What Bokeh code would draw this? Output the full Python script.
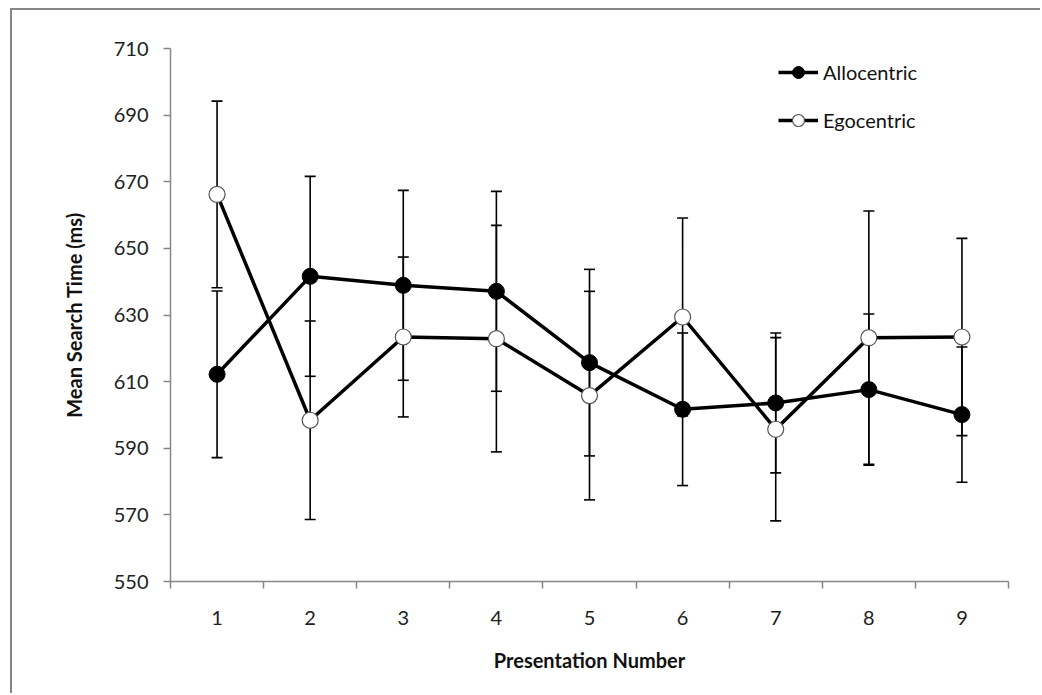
from bokeh.plotting import figure
from bokeh.models import FixedTicker, Whisker, ColumnDataSource, Legend, LegendItem, TeeHead
from bokeh.embed import file_html
from bokeh.resources import INLINE

presentation = [1, 2, 3, 4, 5, 6, 7, 8, 9]
allo_mean = [612.2, 641.6, 638.9, 637.1, 615.7, 601.7, 603.6, 607.6, 600.1]
allo_err = [25.0, 30.0, 28.5, 30.0, 28.0, 22.9, 21.0, 22.7, 20.3]
ego_mean = [666.2, 598.4, 623.4, 622.9, 605.8, 629.4, 595.7, 623.2, 623.4]
ego_err = [28.0, 29.8, 24.0, 34.0, 31.3, 29.7, 27.5, 38.0, 29.6]
y_ticks = [550, 570, 590, 610, 630, 650, 670, 690, 710]
x_boundaries = [0.5, 1.5, 2.5, 3.5, 4.5, 5.5, 6.5, 7.5, 8.5, 9.5]

FONT = "Lato"
AXIS_GRAY = "#868686"

allo_src = ColumnDataSource(dict(
    x=presentation, y=allo_mean,
    lo=[m - e for m, e in zip(allo_mean, allo_err)],
    hi=[m + e for m, e in zip(allo_mean, allo_err)]))
ego_src = ColumnDataSource(dict(
    x=presentation, y=ego_mean,
    lo=[m - e for m, e in zip(ego_mean, ego_err)],
    hi=[m + e for m, e in zip(ego_mean, ego_err)]))

p = figure(width=1030, height=685, x_range=(0.5, 9.5), y_range=(550, 710),
           output_backend="svg", toolbar_location=None,
           min_border_left=158, min_border_right=34, min_border_top=38, min_border_bottom=114)
p.margin = (8, 0, 0, 10)
p.styles = {"border-left": "2px solid #868686", "border-top": "2px solid #868686"}
p.outline_line_color = None
p.xgrid.grid_line_color = None
p.ygrid.grid_line_color = None
p.background_fill_color = "white"
p.border_fill_color = "white"

# axes
xa = p.xaxis[0]
xa.ticker = FixedTicker(ticks=presentation, minor_ticks=x_boundaries)
xa.major_tick_line_color = None
xa.major_tick_out = 0
xa.major_tick_in = 0
xa.minor_tick_line_color = AXIS_GRAY
xa.minor_tick_out = 7
xa.minor_tick_in = 0
xa.axis_line_color = AXIS_GRAY
xa.axis_line_width = 1.5
xa.minor_tick_line_width = 1.5
xa.major_label_text_font = FONT
xa.major_label_text_font_size = "20px"
xa.major_label_text_color = "#222222"
xa.major_label_standoff = 22
xa.axis_label = "Presentation Number"
xa.axis_label_text_font = FONT
xa.axis_label_text_font_style = "bold"
xa.axis_label_text_font_size = "20px"
xa.axis_label_text_color = "#111111"
xa.axis_label_standoff = 20

ya = p.yaxis[0]
ya.ticker = FixedTicker(ticks=y_ticks)
ya.minor_tick_line_color = None
ya.major_tick_line_color = AXIS_GRAY
ya.major_tick_line_width = 1.5
ya.major_tick_out = 7
ya.major_tick_in = 0
ya.axis_line_color = AXIS_GRAY
ya.axis_line_width = 1.5
ya.major_label_text_font = FONT
ya.major_label_text_font_size = "20px"
ya.major_label_text_color = "#222222"
ya.major_label_standoff = 15
ya.axis_label = "Mean Search Time (ms)"
ya.axis_label_text_font = FONT
ya.axis_label_text_font_style = "bold"
ya.axis_label_text_font_size = "20px"
ya.axis_label_text_color = "#111111"
ya.axis_label_standoff = 25

# error bars
for src in (allo_src, ego_src):
    w = Whisker(source=src, base="x", lower="lo", upper="hi", dimension="height",
                line_color="black", line_width=1.6,
                upper_head=TeeHead(size=11, line_color="black", line_width=1.6),
                lower_head=TeeHead(size=11, line_color="black", line_width=1.6))
    p.add_layout(w)

allo_line = p.line("x", "y", source=allo_src, line_color="black", line_width=3.5)
allo_pts = p.scatter("x", "y", source=allo_src, size=16, marker="circle",
                     fill_color="black", line_color="black", line_width=1)
ego_line = p.line("x", "y", source=ego_src, line_color="black", line_width=3.5)
ego_pts = p.scatter("x", "y", source=ego_src, size=16, marker="circle",
                    fill_color="white", line_color="#555555", line_width=1.2)

legend = Legend(items=[
    LegendItem(label="Allocentric", renderers=[allo_line, allo_pts]),
    LegendItem(label="Egocentric", renderers=[ego_line, ego_pts]),
], location=(608, 446))
legend.glyph_width = 40
legend.glyph_height = 30
legend.label_height = 30
legend.spacing = 18
legend.padding = 0
legend.margin = 0
legend.label_standoff = 5
legend.label_text_font = FONT
legend.label_text_font_size = "20px"
legend.label_text_color = "#111111"
legend.background_fill_alpha = 0
legend.border_line_color = None
p.add_layout(legend)

open("out.html", "w").write(file_html(p, INLINE))
